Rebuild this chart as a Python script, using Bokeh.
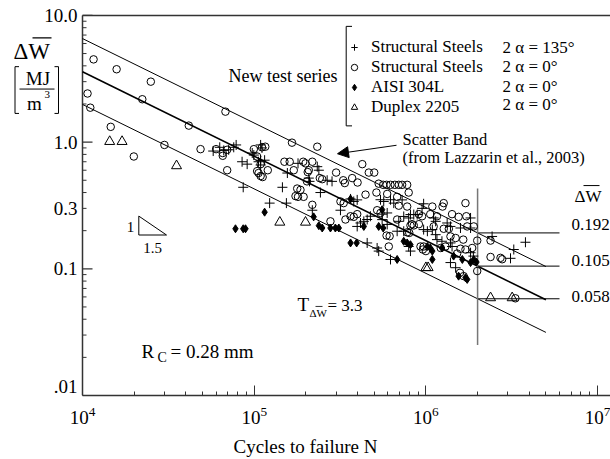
import numpy as np
from bokeh.plotting import figure
from bokeh.models import (FixedTicker, Label, Arrow, NormalHead, Legend,
                          LegendItem, LogTickFormatter)
from bokeh.embed import file_html
from bokeh.resources import INLINE

# ---------------- data ----------------
# Structural steels, 2 alpha = 135 deg  (plus)
ss135_N = [5.77e4, 6.3e4, 6.65e4, 7.1e4, 7.6e4, 7.85e4, 8.5e4, 9.1e4, 9.74e4, 9.95e4,
           1.09e5, 1.15e5, 8.63e4, 1.23e5, 1.46e5, 1.56e5, 1.54e5, 1.8e5, 2.08e5, 1.09e5,
           1.11e5, 1.06e5, 1.09e5, 2.33e5, 2.38e5, 2.43e5, 2.66e5, 2.84e5, 2.1e5, 2.18e5,
           3.18e5, 3.64e5, 3.8e5, 3.98e5, 4.75e5, 3.98e5, 4.16e5, 4.35e5, 4.55e5, 5.44e5,
           5.68e5, 5.95e5, 5.56e5, 6.22e5, 6.5e5, 7.27e5, 5.56e5, 5.95e5, 6.95e5, 6.8e5,
           7.43e5, 4.55e5, 5.2e5, 5.31e5, 6.22e5, 8.13e5, 8.5e5, 8.9e5, 9.5e5, 9.7e5,
           1.02e6, 1.09e6, 1.14e6, 1.16e6, 1.24e6, 1.39e6, 1.42e6, 1.82e6, 1.59e6, 1.39e6,
           1.49e6, 1.82e6, 1.89e6, 2.43e6, 3.8e6, 3.25e6, 3.11e6, 1.82e6, 9.7e5, 7.43e5,
           7.94e5, 8.13e5, 7.94e5, 1.11e6, 1.14e6, 1.33e6, 1.39e6]
ss135_W = [0.85, 0.91, 0.86, 0.87, 0.91, 0.95, 0.70, 0.67, 0.82, 0.79,
           0.715, 0.72, 0.44, 0.33, 0.44, 0.57, 0.33, 0.68, 0.52, 0.95,
           0.90, 0.70, 0.66, 0.64, 0.60, 0.40, 0.50, 0.49, 0.49, 0.29,
           0.29, 0.356, 0.34, 0.35, 0.26, 0.216, 0.23, 0.237, 0.245, 0.351,
           0.34, 0.276, 0.27, 0.351, 0.33, 0.35, 0.2445, 0.224, 0.237, 0.198,
           0.198, 0.16, 0.146, 0.138, 0.1185, 0.268, 0.268, 0.268, 0.30, 0.204,
           0.198, 0.204, 0.186, 0.17, 0.165, 0.16, 0.15, 0.252, 0.21, 0.112,
           0.102, 0.134, 0.126, 0.18, 0.162, 0.142, 0.121, 0.21, 0.326, 0.259,
           0.252, 0.138, 0.15, 0.252, 0.237, 0.23, 0.216]

# Structural steels, 2 alpha = 0 deg  (open circle)
ss0_N = [1.16e4, 1.58e4, 2.5e4, 1.07e4, 2.23e4, 1.11e4, 1.46e4, 4.16e4, 3.0e4, 1.99e4,
         4.87e4, 6.8e4, 1.66e5, 2.33e5, 1.16e5, 6.0e4, 6.56e4, 6.56e4, 6.96e4, 6.96e4,
         9.95e4, 1.11e5, 1.04e5, 1.09e5, 1.04e5, 1.09e5, 1.12e5, 1.2e5, 1.5e5, 1.61e5,
         1.7e5, 1.78e5, 1.86e5, 1.8e5, 1.94e5, 1.93e5, 1.99e5, 2.08e5, 2.03e5, 2.18e5,
         2.05e5, 2.41e5, 2.49e5, 3.0e5, 4.26e5, 4.65e5, 5.0e5, 3.3e5, 3.37e5, 3.72e5,
         4.0e5, 5.31e5, 5.64e5, 5.9e5, 6.22e5, 6.59e5, 6.95e5, 7.27e5, 7.78e5, 4.45e5,
         5.15e5, 5.95e5, 6.8e5, 7.94e5, 3.18e5, 3.32e5, 2.18e5, 6.95e5, 7.78e5, 5.2e5,
         5.44e5, 1.27e6, 1.25e6, 1.7e6, 1.09e6, 3.64e5, 3.8e5, 3.98e5, 3.4e5, 2.78e5,
         6.8e5, 9.1e5, 9.5e5, 1.06e6, 1.16e6, 1.42e6, 1.55e6, 1.72e6, 1.9e6, 8.13e5,
         8.5e5, 1.11e6, 1.27e6, 1.36e6, 5.9e5, 6.15e5, 7.78e5, 8.0e5, 6.08e5, 9.7e5,
         1.0e6, 1.39e6, 1.49e6, 1.65e6, 1.3e6, 1.7e6, 1.86e6, 1.58e6, 1.66e6, 1.99e6,
         2.38e6, 2.72e6, 2.78e6, 2.38e6, 1.99e6, 1.74e6, 1.59e6, 1.52e6, 9.3e5, 9.6e5,
         1.22e6, 8.3e5, 9.1e5, 3.32e6, 1.74e5, 1.06e5]
ss0_W = [4.5, 3.76, 3.0, 2.42, 2.18, 1.87, 1.32, 1.35, 0.95, 0.77,
         0.88, 1.74, 0.99, 0.92, 0.92, 0.88, 0.82, 0.78, 0.87, 0.60,
         0.88, 0.91, 0.77, 0.67, 0.59, 0.54, 0.53, 0.60, 0.70, 0.70,
         0.60, 0.43, 0.42, 0.37, 0.37, 0.70, 0.68, 0.60, 0.49, 0.70,
         0.58, 0.52, 0.51, 0.575, 0.67, 0.575, 0.575, 0.50, 0.475, 0.52,
         0.48, 0.47, 0.46, 0.46, 0.46, 0.46, 0.46, 0.46, 0.46, 0.385,
         0.40, 0.39, 0.37, 0.40, 0.34, 0.33, 0.32, 0.315, 0.31, 0.29,
         0.276, 0.33, 0.31, 0.33, 0.31, 0.26, 0.257, 0.27, 0.245, 0.237,
         0.245, 0.27, 0.26, 0.27, 0.26, 0.27, 0.257, 0.26, 0.216, 0.22,
         0.22, 0.216, 0.207, 0.207, 0.183, 0.181, 0.194, 0.192, 0.15, 0.15,
         0.138, 0.18, 0.175, 0.17, 0.15, 0.142, 0.146, 0.093, 0.0875, 0.096,
         0.124, 0.122, 0.119, 0.167, 0.167, 0.216, 0.144, 0.132, 0.15, 0.142,
         0.146, 0.225, 0.225, 0.0585, 0.375, 0.57]

# AISI 304L (filled diamond)
aisi_N = [1.15e5, 7.78e4, 8.63e4, 8.9e4, 2.22e5, 2.38e5, 2.49e5, 2.78e5, 2.97e5, 3.11e5,
          3.64e5, 3.95e5, 3.64e5, 4.35e5, 5.56e5, 5.31e5, 5.64e5, 6.8e5, 7.43e5, 7.78e5,
          8.13e5, 1.02e6, 1.06e6, 1.09e6, 1.24e6, 1.45e6, 1.63e6, 1.7e6, 1.74e6, 1.82e6,
          1.9e6, 1.97e6, 1.09e6, 1.55e6]
aisi_W = [0.28, 0.207, 0.207, 0.207, 0.257, 0.219, 0.21, 0.21, 0.21, 0.21,
          0.16, 0.16, 0.356, 0.216, 0.293, 0.216, 0.21, 0.1185, 0.165, 0.16,
          0.155, 0.15, 0.146, 0.138, 0.146, 0.126, 0.1185, 0.085, 0.0825, 0.112,
          0.1185, 0.113, 0.1185, 0.0875]

# Duplex 2205 (open triangle)
dup_N = [1.44e4, 1.7e4, 3.53e4, 1.41e5, 1.99e5, 1.0e6, 1.03e6, 2.38e6, 3.18e6]
dup_W = [1.01, 1.01, 0.65, 0.233, 0.233, 0.102, 0.102, 0.059, 0.059]

# Scatter band (Lazzarin et al., 2003)
band_ref_N = 2e6
band_W = [0.192, 0.105, 0.058]        # upper, mean, lower at 2e6 cycles
band_labels = ["0.192", "0.105", "0.058"]
inv_slope = 1.5
band_N = [1e4, 5e6]
hline_N = [2e6, 6e6]
vline_W = [0.025, 0.43]

# axis ticks
x_major = [1e4, 1e5, 1e6, 1e7]
y_major = [0.01, 0.1, 1.0, 10.0]
y_tick_labels = [".01", "0.1", "1.0", "10.0"]
y_extra_label_value = 0.3
y_extra_label = "0.3"

legend_names = ["Structural Steels", "Structural Steels", "AISI 304L", "Duplex 2205"]
legend_angles = ["2 \u03b1 = 135\u00b0", "2 \u03b1 = 0\u00b0", "2 \u03b1 = 0\u00b0", "2 \u03b1 = 0\u00b0"]

# ---------------- layout ----------------
W, H = 610, 459
BB = 62                       # bottom panel (x axis)
FH = H - BB                   # frame height (frame spans full width, top at 0)
X0_PX, XDEC = 82, 171.7       # pixel of N=1e4, pixels per decade
Y0_PX, YDEC = 15, (397 - 15) / 3.0
x_lo = 10 ** (4 - X0_PX / XDEC)
x_hi = 10 ** (4 + (W - X0_PX) / XDEC)
y_lo = 0.01
y_hi = 10 ** (1 + Y0_PX / YDEC)
FONT = "Liberation Serif"
AX = "#333333"


def dx(px):
    return 10 ** (np.log10(x_lo) + px / W * (np.log10(x_hi) - np.log10(x_lo)))


def dy(py):
    return 10 ** (np.log10(y_hi) - py / FH * (np.log10(y_hi) - np.log10(y_lo)))


p = figure(width=W, height=H, x_axis_type="log", y_axis_type="log",
           x_range=(x_lo, x_hi), y_range=(y_lo, y_hi), y_axis_location=None,
           min_border_left=0, min_border_right=0, min_border_top=0, min_border_bottom=BB,
           output_backend="svg", toolbar_location=None)
p.outline_line_color = None
p.xgrid.visible = False
p.ygrid.visible = False
p.background_fill_color = "white"
p.border_fill_color = "white"

# x axis (library axis, bounded to the data region)
xminor = [k * 10 ** d for d in range(4, 7) for k in range(2, 10)] + [k * 1e7 for k in range(2, 10)]
xa = p.xaxis[0]
xa.bounds = (1e4, x_hi)
xa.ticker = FixedTicker(ticks=x_major, minor_ticks=xminor)
xa.formatter = LogTickFormatter()
xa.major_tick_in = 10
xa.major_tick_out = 0
xa.minor_tick_in = 4
xa.minor_tick_out = 0
xa.axis_line_color = AX
xa.axis_line_width = 1.5
xa.major_tick_line_color = AX
xa.minor_tick_line_color = AX
xa.major_label_text_font = FONT
xa.major_label_text_font_size = "19px"
xa.major_label_text_color = "black"
xa.major_label_standoff = 11
xa.axis_label = "Cycles to failure N"
xa.axis_label_text_font = FONT
xa.axis_label_text_font_size = "19px"
xa.axis_label_text_font_style = "normal"
xa.axis_label_text_color = "black"
xa.axis_label_standoff = 9

# y axis drawn at N = 1e4 (so that its title can sit to its left)
yminor = [k * 10 ** d for d in range(-2, 1) for k in range(2, 10)]
p.line([1e4, 1e4], [y_lo, y_major[-1]], line_color=AX, line_width=1.5)
p.line([1e4, x_hi], [y_major[-1], y_major[-1]], line_color=AX, line_width=1.5)
p.segment(x0=[1e4] * len(y_major), y0=y_major, x1=[dx(X0_PX + 10)] * len(y_major), y1=y_major,
          line_color=AX, line_width=1.2)
p.segment(x0=[1e4] * len(yminor), y0=yminor, x1=[dx(X0_PX + 4)] * len(yminor), y1=yminor,
          line_color=AX, line_width=1.0)
for v, s in zip(y_major + [y_extra_label_value], y_tick_labels + [y_extra_label]):
    p.add_layout(Label(x=dx(X0_PX - 5), y=v, text=s, text_font=FONT, text_font_size="19px",
                       text_align="right", text_baseline="middle", text_color="black",
                       y_offset=9 if v == y_lo else 0))

# scatter band
Nb = np.array(band_N)
for i, wref in enumerate(band_W):
    wb = wref * (Nb / band_ref_N) ** (-1.0 / inv_slope)
    p.line(Nb, wb, line_color="black", line_width=1.6 if i == 1 else 1.0)
    p.line(hline_N, [wref, wref], line_color="black", line_width=1.0)
p.line([band_ref_N, band_ref_N], vline_W, line_color="#777777", line_width=1.5)

# data
r_plus = p.scatter(ss135_N, ss135_W, marker="cross", size=10, line_color="black", line_width=1)
r_circ = p.scatter(ss0_N, ss0_W, marker="circle", size=7.5, fill_color=None, line_color="black", line_width=1)
r_diam = p.scatter(aisi_N, aisi_W, marker="diamond", size=8, fill_color="black", line_color="black")
r_tri = p.scatter(dup_N, dup_W, marker="triangle", size=10, fill_color=None, line_color="black", line_width=1)

legend = Legend(items=[LegendItem(label=legend_names[i], renderers=[r])
                       for i, r in enumerate([r_plus, r_circ, r_diam, r_tri])],
                location=(346, 278), orientation="vertical",
                label_text_font=FONT, label_text_font_size="17px", label_text_color="black",
                glyph_width=16, glyph_height=20, label_height=20, spacing=0,
                label_standoff=9, padding=0, margin=0,
                border_line_color=None, background_fill_alpha=0)
p.add_layout(legend)


def text(px, py, s, size, align="left", baseline="middle"):
    p.add_layout(Label(x=dx(px), y=dy(py), text=s, text_font=FONT, text_font_size=f"{size}px",
                       text_align=align, text_baseline=baseline, text_color="black"))


def seg(x0, y0, x1, y1, w=1.0, color="black"):
    p.add_layout(Arrow(x_start=dx(x0), y_start=dy(y0), x_end=dx(x1), y_end=dy(y1),
                       start=None, end=None, line_color=color, line_width=w))


# legend second column + bracket + caption
rows_y = [47, 66, 86, 105]
for s, yy in zip(legend_angles, rows_y):
    text(502, yy, s, 17)
text(228, 76, "New test series", 18)
seg(345.7, 26, 345.7, 126)
seg(345.7, 26, 351.5, 26)
seg(345.7, 126, 351.5, 126)

# y-axis title  dW / [MJ/m^3]
text(13, 51, "\u0394W", 23)
seg(32, 37.5, 51, 37.5, 1.3)
seg(14.5, 66.5, 14.5, 113.5)
seg(14.5, 66.5, 18.5, 66.5)
seg(14.5, 113.5, 18.5, 113.5)
seg(58, 66.5, 58, 113.5)
seg(58, 66.5, 54, 66.5)
seg(58, 113.5, 54, 113.5)
text(37.5, 78.5, "MJ", 19, align="center")
seg(19, 89, 54, 89)
text(34, 104, "m", 19, align="center")
text(44, 94, "3", 11)

# scatter band annotation
p.add_layout(Arrow(x_start=dx(396), y_start=dy(145.5), x_end=dx(337), y_end=dy(154),
                   line_color="black", line_width=1,
                   end=NormalHead(size=11, fill_color="black", line_color="black")))
text(402, 140, "Scatter Band", 16.5)
text(402, 157.5, "(from Lazzarin et al., 2003)", 16.5)

# right-hand dW values
text(574, 197, "\u0394W", 17)
seg(583, 186, 599, 186)
for s, yy in zip(band_labels, [225, 261, 298]):
    text(571, yy, s, 17)

# slope triangle
tri_x = [dx(138.3), dx(138.3), dx(166), dx(138.3)]
tri_y = [dy(216.7), dy(235.7), dy(235.7), dy(216.7)]
p.line(tri_x, tri_y, line_color="black", line_width=1)
text(130, 227.5, "1", 15, align="center")
text(152, 248.5, "1.5", 15, align="center")

# T and Rc
text(297, 306, "T", 19)
text(309, 314, "\u0394W", 11)
seg(315, 307.5, 322, 307.5, 0.8)
text(327, 307, "= 3.3", 17)
text(141, 353, "R", 19)
text(157, 359, "C", 14)
text(170, 353, "= 0.28 mm", 19)

open("out.html", "w").write(file_html(p, INLINE))
